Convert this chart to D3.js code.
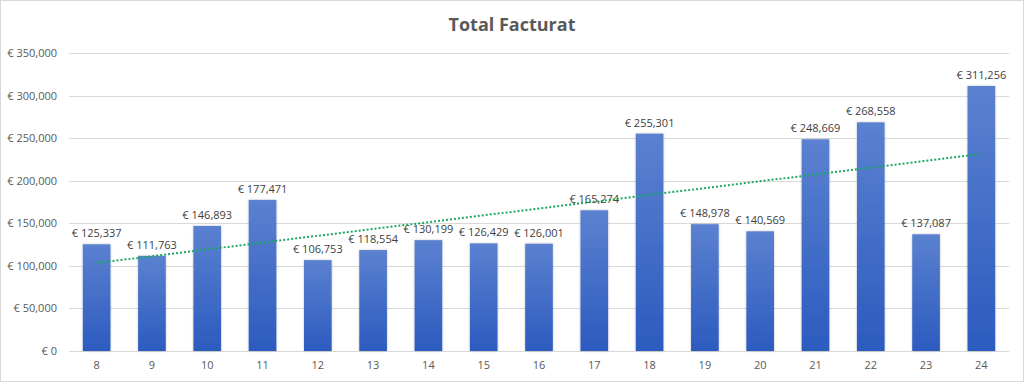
<!DOCTYPE html>
<html>
<head>
<meta charset="utf-8">
<style>
  body { margin: 0; background: #fff; }
  svg { display: block; font-family: "Open Sans", "Noto Sans", sans-serif; }
</style>
</head>
<body>
<div id="chart"></div>
<script src="https://cdn.jsdelivr.net/npm/d3@7/dist/d3.min.js"></script>
<script>
// Data
var weeks = ["8", "9", "10", "11", "12", "13", "14", "15", "16", "17", "18", "19", "20", "21", "22", "23", "24"];
var totals = [125337, 111763, 146893, 177471, 106753, 118554, 130199, 126429, 126001, 165274, 255301, 148978, 140569, 248669, 268558, 137087, 311256];
var yTicks = [0, 50000, 100000, 150000, 200000, 250000, 300000, 350000];

var width = 1024, height = 383;
var margin = {top: 53, right: 15, bottom: 32, left: 69};

var svg = d3.select("#chart").append("svg")
  .attr("width", width).attr("height", height);

// chart border
svg.append("rect")
  .attr("x", 0.5).attr("y", 0.5)
  .attr("width", width - 1).attr("height", height - 2)
  .attr("fill", "#fff").attr("stroke", "#d9d9d9");

var defs = svg.append("defs");
var grad = defs.append("linearGradient").attr("id", "barGrad")
  .attr("x1", 0).attr("y1", 0).attr("x2", 0).attr("y2", 1);
grad.append("stop").attr("offset", "0%").attr("stop-color", "#5b81d0");
grad.append("stop").attr("offset", "100%").attr("stop-color", "#2c5bbf");

var shadow = defs.append("filter").attr("id", "shadow")
  .attr("x", "-20%").attr("y", "-5%").attr("width", "140%").attr("height", "110%");
shadow.append("feDropShadow").attr("dx", 0).attr("dy", 0)
  .attr("stdDeviation", 1.2).attr("flood-color", "#000").attr("flood-opacity", 0.25);

var x = d3.scaleBand()
  .domain(weeks)
  .range([margin.left, width - margin.right])
  .paddingInner(0.5).paddingOuter(0.25);

var y = d3.scaleLinear()
  .domain([0, 350000])
  .range([height - margin.bottom, margin.top]);

// Title
svg.append("text")
  .attr("x", width / 2).attr("y", 31)
  .attr("text-anchor", "middle")
  .style("font-size", "18px").style("font-weight", "bold")
  .attr("fill", "#595959")
  .text("Total Facturat");

// gridlines
svg.append("g").selectAll("line")
  .data(yTicks)
  .enter().append("line")
  .attr("x1", margin.left).attr("x2", width - margin.right)
  .attr("y1", function (d) { return Math.round(y(d)) + 0.5; })
  .attr("y2", function (d) { return Math.round(y(d)) + 0.5; })
  .attr("stroke", "#d9d9d9");

// y axis labels
var fmt = d3.format(",");
var yAxis = d3.axisLeft(y).tickValues(yTicks).tickSize(0).tickPadding(12)
  .tickFormat(function (d) { return "€ " + fmt(d); });
var gy = svg.append("g").attr("transform", "translate(" + margin.left + ",0)").call(yAxis);
gy.select(".domain").remove();
gy.selectAll("text").attr("fill", "#595959").style("font-size", "11px")
  .style("font-family", "\"Open Sans\", sans-serif");

// x axis labels
var xAxis = d3.axisBottom(x).tickSize(0).tickPadding(10);
var gx = svg.append("g").attr("transform", "translate(0," + (height - margin.bottom) + ")").call(xAxis);
gx.select(".domain").remove();
gx.selectAll("text").attr("fill", "#595959").style("font-size", "11px")
  .style("font-family", "\"Open Sans\", sans-serif");

// bars
svg.append("g").selectAll("rect")
  .data(totals)
  .enter().append("rect")
  .attr("x", function (d, i) { return x(weeks[i]); })
  .attr("y", function (d) { return y(d); })
  .attr("width", x.bandwidth())
  .attr("height", function (d) { return y(0) - y(d); })
  .attr("fill", "url(#barGrad)")
  .attr("filter", "url(#shadow)");

// data labels
svg.append("g").selectAll("text")
  .data(totals)
  .enter().append("text")
  .attr("x", function (d, i) { return x(weeks[i]) + x.bandwidth() / 2; })
  .attr("y", function (d) { return y(d) - 7; })
  .attr("text-anchor", "middle")
  .style("font-size", "11px")
  .attr("fill", "#404040")
  .text(function (d) { return "€ " + fmt(d); });

// linear trendline (least squares over category index)
var n = totals.length;
var xs = d3.range(n);
var mx = d3.mean(xs), my = d3.mean(totals);
var slope = d3.sum(xs, function (i) { return (i - mx) * (totals[i] - my); }) /
  d3.sum(xs, function (i) { return (i - mx) * (i - mx); });
var icpt = my - slope * mx;
var cx = function (i) { return x(weeks[i]) + x.bandwidth() / 2; };

svg.append("line")
  .attr("x1", cx(0)).attr("y1", y(icpt))
  .attr("x2", cx(n - 1)).attr("y2", y(icpt + slope * (n - 1)))
  .attr("stroke", "#1aa864")
  .attr("stroke-width", 2)
  .attr("stroke-dasharray", "2,2");
</script>
</body>
</html>
